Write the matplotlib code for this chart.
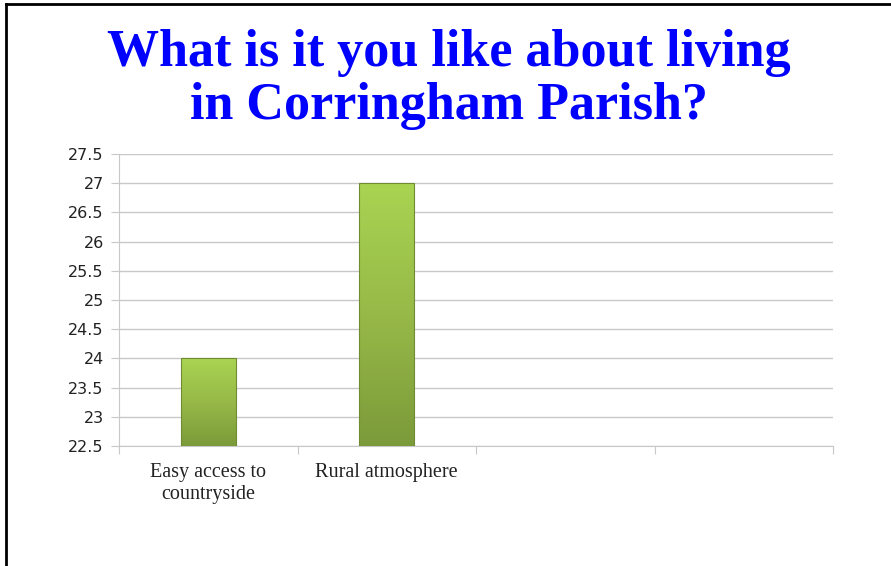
import matplotlib
matplotlib.use('Agg')
import matplotlib.pyplot as plt
import numpy as np
from matplotlib.colors import LinearSegmentedColormap

title_lines = ["What is it you like about living", "in Corringham Parish?"]
categories = ["Easy access to\ncountryside", "Rural atmosphere", "", ""]
values = [24, 27]
yticks = [22.5, 23, 23.5, 24, 24.5, 25, 25.5, 26, 26.5, 27, 27.5]

fig = plt.figure(figsize=(8.91, 5.66), dpi=100)
fig.patch.set_facecolor('white')

# slide frame (left and top edges)
fig.add_artist(plt.Line2D([0.0068, 0.0068], [0, 0.993], color='black', lw=2, transform=fig.transFigure))
fig.add_artist(plt.Line2D([0.0068, 1.0], [0.993, 0.993], color='black', lw=2, transform=fig.transFigure))

for line, ybase in zip(title_lines, [66, 119]):
    fig.text(0.504, 1 - ybase / 566, line, ha='center', va='baseline', color='#0000FF',
             fontsize=37.5, fontweight='bold', family='Liberation Serif')

ax = fig.add_axes([119/891, 1 - 446/566, (833 - 119)/891, (446 - 154)/566])

x = np.arange(len(values))
bars = ax.bar(x, [v - 22.5 for v in values], bottom=22.5, width=0.31,
              color='none', edgecolor='none', zorder=3)

cmap = LinearSegmentedColormap.from_list('g', ['#7b9a3a', '#97b948', '#a9d452'])
grad = np.linspace(0, 1, 256).reshape(-1, 1)
for b in bars:
    x0, y0 = b.get_x(), b.get_y()
    w, h = b.get_width(), b.get_height()
    im = ax.imshow(grad, cmap=cmap, origin='lower', aspect='auto',
                   extent=[x0, x0 + w, y0, y0 + h], zorder=3)
    im.set_clip_path(b)
    ax.add_patch(plt.Rectangle((x0, y0), w, h, fill=False, edgecolor='#6f8c33', lw=0.8, zorder=4))
ax.set_xlim(-0.5, 3.5)
ax.set_ylim(22.5, 27.5)

ax.set_yticks(yticks)
ax.set_yticklabels([('%g' % t) for t in yticks], family='DejaVu Sans', fontsize=11.5, color='#222222')
ax.yaxis.grid(True, color='#c8c8c8', lw=1)
ax.set_axisbelow(True)
ax.tick_params(axis='y', length=6, color='#c8c8c8', pad=5)

ax.set_xticks([-0.5, 0.5, 1.5, 2.5, 3.5], minor=False)
ax.set_xticklabels([])
ax.set_xticks(x.tolist() + [2, 3], minor=True)
ax.set_xticklabels(categories, minor=True, family='Liberation Serif', fontsize=14.5,
                   va='top', linespacing=1.25, color='#222222')
ax.tick_params(axis='x', which='major', length=6, color='#c8c8c8')
ax.tick_params(axis='x', which='minor', length=0, pad=12)

for s in ['top', 'right']:
    ax.spines[s].set_visible(False)
ax.spines['left'].set_color('#c8c8c8')
ax.spines['bottom'].set_color('#c8c8c8')

fig.savefig('out.png', dpi=100)
